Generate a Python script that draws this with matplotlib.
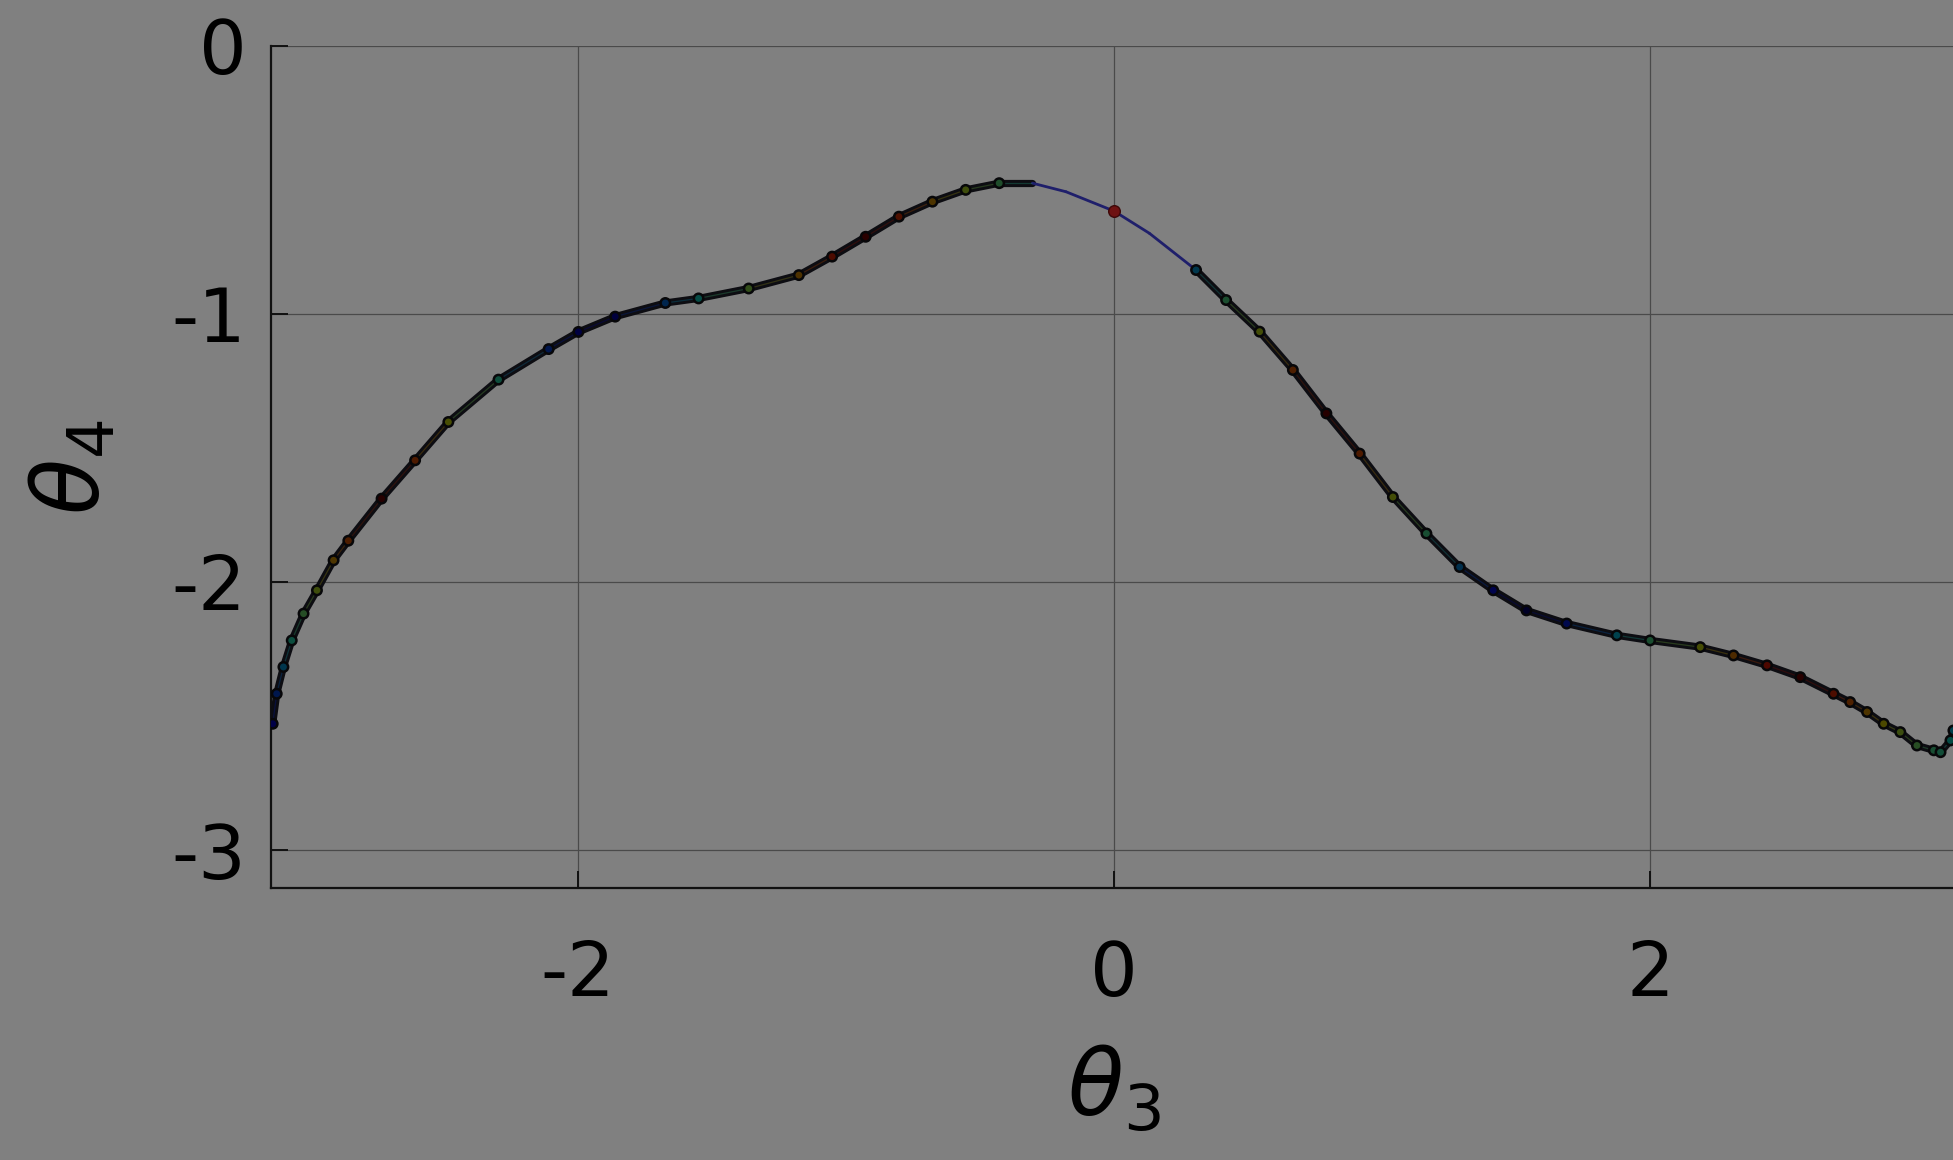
import numpy as np
import matplotlib
matplotlib.use("Agg")
import matplotlib.pyplot as plt
from matplotlib.collections import LineCollection

# Trajectory in the (theta3, theta4) plane
theta3 = [-3.137, -3.122, -3.097, -3.066, -3.022, -2.972, -2.910, -2.855, -2.731,
          -2.606, -2.482, -2.295, -2.108, -1.997, -1.860, -1.673, -1.549, -1.362,
          -1.175, -1.051, -0.926, -0.802, -0.677, -0.553, -0.428, -0.304, -0.179,
          0.000, 0.132, 0.306, 0.418, 0.543, 0.667, 0.792, 0.916, 1.040, 1.165,
          1.289, 1.414, 1.538, 1.688, 1.875, 1.999, 2.186, 2.310, 2.435, 2.559,
          2.683, 2.745, 2.808, 2.870, 2.932, 2.994, 3.057, 3.082, 3.119, 3.130]
theta4 = [-2.529, -2.417, -2.317, -2.218, -2.118, -2.031, -1.919, -1.846, -1.689,
          -1.546, -1.403, -1.245, -1.131, -1.067, -1.010, -0.959, -0.942, -0.905,
          -0.855, -0.786, -0.712, -0.637, -0.581, -0.537, -0.512, -0.512, -0.544,
          -0.616, -0.699, -0.836, -0.948, -1.066, -1.209, -1.371, -1.521, -1.683,
          -1.819, -1.944, -2.031, -2.106, -2.155, -2.199, -2.218, -2.243, -2.274,
          -2.311, -2.355, -2.417, -2.448, -2.485, -2.529, -2.560, -2.610, -2.628,
          -2.635, -2.591, -2.554]

# Initial state marker
start_theta3 = [0.0]
start_theta4 = [-0.616]

# Stretch of the path drawn as a plain line (no sample markers)
plain_range = (-0.32, 0.30)

x_ticks = [-2, 0, 2]
y_ticks = [0, -1, -2, -3]
x_label = r"$\theta_3$"
y_label = r"$\theta_4$"

bg = "#808080"
fig = plt.figure(figsize=(19.53, 11.60), dpi=100, facecolor=bg)
ax = fig.add_axes([0.1390, 0.2345, 0.8628, 0.7259], facecolor=bg)

x = np.asarray(theta3)
y = np.asarray(theta4)

# colour phase along the path (triangle wave over arc length)
seg = np.hypot(np.diff(x), np.diff(y))
s = np.concatenate([[0.0], np.cumsum(seg)])
period, s_red = 2.1, 0.95
phase = 1.0 - 2.0 * np.abs(((s - s_red) / period + 0.5) % 1.0 - 0.5)
cols = plt.cm.jet(phase)

plain = (x > plain_range[0]) & (x < plain_range[1])

pts = np.column_stack([x, y]).reshape(-1, 1, 2)
segs = np.concatenate([pts[:-1], pts[1:]], axis=1)
mid_plain = (x[:-1] >= plain_range[0] - 0.01) & (x[1:] <= plain_range[1] + 0.01)

# dark band of the sampled path
band_cols = np.where(mid_plain[:, None], np.array([[0.12, 0.12, 0.42, 1.0]]),
                     np.array([[0.05, 0.05, 0.07, 1.0]]))
band_lw = np.where(mid_plain, 2.0, 5.2)
ax.add_collection(LineCollection(segs, colors=band_cols, linewidths=band_lw,
                                 capstyle="round", joinstyle="round", zorder=3))

# faint colour tint along the sampled stretches
tint = cols.copy()
tint[:, :3] = tint[:, :3] * 0.7
tint_seg = 0.5 * (tint[:-1] + tint[1:])
tint_seg[:, 3] = np.where(mid_plain, 0.0, 0.28)
ax.add_collection(LineCollection(segs, colors=tint_seg, linewidths=0.9, zorder=4))

# sample markers
mk = ~plain
face = cols[mk].copy()
face[:, :3] = face[:, :3] * 0.30
ax.scatter(x[mk], y[mk], s=46, c=face, edgecolors="#070709", linewidths=1.8,
           zorder=5)

# initial state
ax.scatter(start_theta3, start_theta4, s=70, c="#6e1212", edgecolors="#3e0808",
           linewidths=1.0, zorder=6)

ax.set_xlim(-np.pi, np.pi)
ax.set_ylim(-np.pi, 0)
ax.set_xticks(x_ticks)
ax.set_yticks(y_ticks)
ax.set_xticklabels([str(v) for v in x_ticks])
ax.set_yticklabels([str(v) for v in y_ticks])

ax.grid(True, color="#4a4a4a", linewidth=0.9)
ax.set_axisbelow(True)
for side in ("top", "right"):
    ax.spines[side].set_visible(False)
for side in ("left", "bottom"):
    ax.spines[side].set_color("#111111")
    ax.spines[side].set_linewidth(1.6)

ax.tick_params(axis="both", direction="in", length=12, width=1.4,
               color="#111111", labelsize=54, labelcolor="black")
ax.tick_params(axis="x", pad=37)
ax.tick_params(axis="y", pad=18)

ax.set_xlabel(x_label, fontsize=66, labelpad=22)
ax.set_ylabel(y_label, fontsize=66, labelpad=38)

fig.savefig("out.png", dpi=100, facecolor=bg)
